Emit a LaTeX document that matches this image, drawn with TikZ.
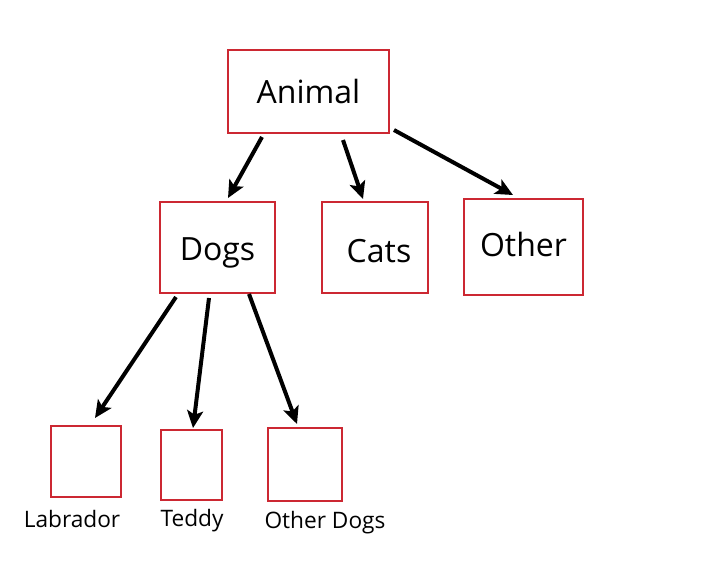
\documentclass[tikz,border=0pt]{standalone}
\usepackage{fontspec}
\setmainfont{Open Sans}
\usetikzlibrary{arrows.meta}
\definecolor{boxred}{RGB}{204,40,50}
\begin{document}
\begin{tikzpicture}[x=0.75pt,y=-0.75pt,
    box/.style={draw=boxred,line width=1.5pt,inner sep=0pt,outer sep=0pt,font=\fontsize{24}{28}\selectfont},
    arr/.style={line width=3pt,-{Stealth[length=13pt,width=12pt,inset=3pt]}},
    lbl/.style={font=\fontsize{17}{20}\selectfont}]
    \useasboundingbox (0,0) rectangle (721,587);
    % top level
    \node[box,minimum width=120.75pt,minimum height=62.25pt] (animal) at (308.5,91.5) {Animal};
    \node[box,minimum width=86.25pt,minimum height=68.25pt,text height=26pt,text depth=6pt] (dogs) at (217.5,247.5) {Dogs};
    \node[box,minimum width=79.5pt,minimum height=68.25pt,text height=22pt,text depth=0pt] (cats) at (375,247.5) {\hspace*{6pt}Cats};
    \node[box,minimum width=89.25pt,minimum height=72pt,text height=18.3pt,text depth=4.5pt] (other) at (523.5,247) {Other};
    % dog kinds
    \node[box,minimum width=52.5pt,minimum height=53.25pt] (labrador) at (86,461.5) {};
    \node[box,minimum width=45.75pt,minimum height=52.5pt] (teddy) at (191.5,465) {};
    \node[box,minimum width=55.5pt,minimum height=54.75pt] (otherdogs) at (305,464.5) {};
    \node[lbl] (labradortxt) at (72,519) {Labrador};
    \node[lbl] (teddytxt) at (192,521) {Teddy};
    \node[lbl] (otherdogstxt) at (325,523) {Other Dogs};
    % arrows
    \draw[arr] ([shift={(34,4)}]animal.south west) -- ([shift={(68,-4)}]dogs.north west);
    \draw[arr] ([shift={(115,7)}]animal.south west) -- ([shift={(41,-3)}]cats.north west);
    \draw[arr] ([shift={(5,-3)}]animal.south east) -- ([shift={(49,-4)}]other.north west);
    \draw[arr] ([shift={(16,4)}]dogs.south west) -- ([shift={(44,-8)}]labrador.north west);
    \draw[arr] ([shift={(49,5)}]dogs.south west) -- ([shift={(32,-2)}]teddy.north west);
    \draw[arr] ([shift={(89,1)}]dogs.south west) -- ([shift={(29,-4)}]otherdogs.north west);
\end{tikzpicture}
\end{document}
